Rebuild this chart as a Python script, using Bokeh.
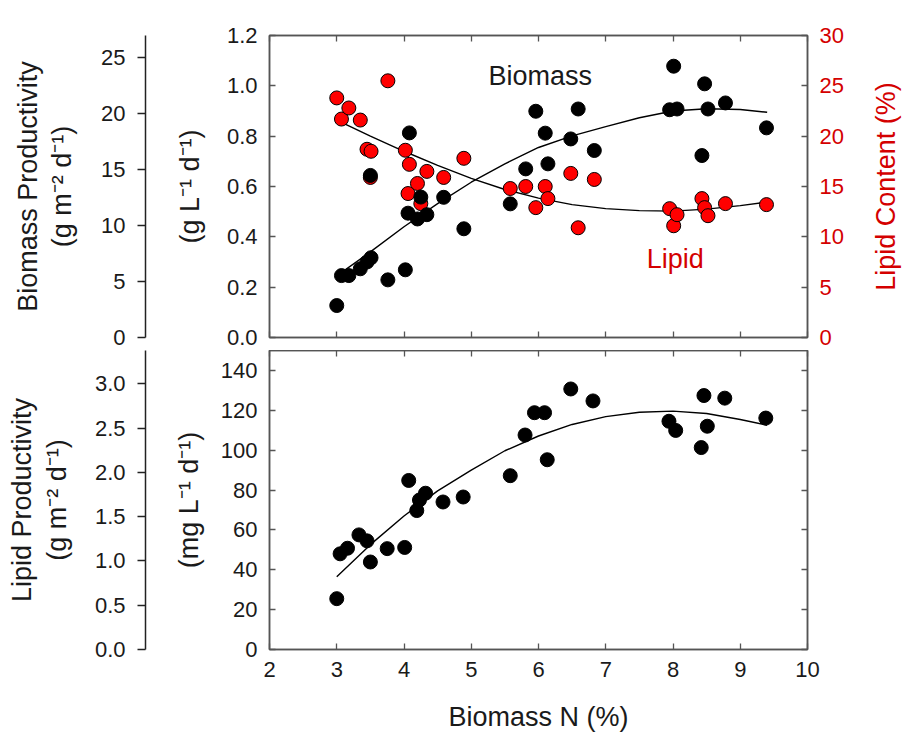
import math
from bokeh.plotting import figure
from bokeh.models import Range1d, LinearAxis, FixedTicker, PrintfTickFormatter, Label
from bokeh.layouts import row, column
from bokeh.embed import file_html
from bokeh.resources import INLINE

# ---------------------------------------------------------------- data
# Biomass N (%) of each culture, shared by biomass productivity and lipid content
biomass_n = [3.00, 3.07, 3.18, 3.35, 3.45, 3.51, 3.50, 3.76, 4.02, 4.08, 4.06,
             4.20, 4.25, 4.34, 4.59, 4.89, 5.58, 5.81, 5.96, 6.10, 6.14, 6.48,
             6.59, 6.83, 7.95, 8.01, 8.06, 8.43, 8.47, 8.52, 8.78, 9.39]
# volumetric biomass productivity (g L-1 d-1)
biomass_prod = [0.127, 0.246, 0.246, 0.273, 0.300, 0.317, 0.644, 0.229, 0.269,
                0.813, 0.494, 0.471, 0.558, 0.488, 0.557, 0.432, 0.531, 0.670,
                0.899, 0.812, 0.690, 0.789, 0.908, 0.743, 0.905, 1.078, 0.908,
                0.723, 1.008, 0.908, 0.932, 0.833]
# lipid content (%)
lipid_content = [23.8, 21.7, 22.8, 21.6, 18.7, 18.5, 15.9, 25.5, 18.6, 17.2,
                 14.3, 15.3, 13.3, 16.5, 15.9, 17.8, 14.8, 15.0, 12.9, 15.0,
                 13.8, 16.3, 10.9, 15.7, 12.8, 11.1, 12.2, 13.8, 12.9, 12.1,
                 13.3, 13.2]

# lipid productivity (mg L-1 d-1)
lp_biomass_n = [3.00, 3.05, 3.16, 3.33, 3.45, 3.50, 3.75, 4.01, 4.07, 4.19,
                4.23, 4.32, 4.58, 4.88, 5.58, 5.80, 5.94, 6.09, 6.13, 6.48,
                6.81, 7.94, 8.04, 8.42, 8.46, 8.51, 8.77, 9.38]
lipid_prod = [25.5, 48.0, 50.8, 57.5, 54.5, 43.9, 50.6, 51.2, 84.8, 69.7,
              75.0, 78.4, 74.0, 76.5, 87.2, 107.6, 118.8, 118.8, 95.2, 130.7,
              124.7, 114.5, 109.9, 101.3, 127.4, 112.0, 126.1, 116.1]

# regression curves
fit_n = [3.0, 3.5, 4.0, 4.5, 5.0, 5.5, 6.0, 6.5, 7.0, 7.5, 8.0, 8.5, 9.0, 9.4]
biomass_fit = [0.245, 0.340, 0.440, 0.532, 0.617, 0.690, 0.755, 0.801, 0.838,
               0.873, 0.900, 0.909, 0.906, 0.895]
lipid_content_fit = [21.6, 20.0, 18.5, 17.1, 15.8, 14.7, 13.85, 13.2, 12.8,
                     12.6, 12.55, 12.75, 13.1, 13.45]
lipid_prod_fit = [36.5, 52.6, 67.0, 79.6, 90.0, 99.7, 107.1, 112.9, 116.8,
                  119.0, 119.6, 118.4, 115.4, 112.5]

# ticks
x_ticks = [2, 3, 4, 5, 6, 7, 8, 9, 10]
bp_ticks = [0.0, 0.2, 0.4, 0.6, 0.8, 1.0, 1.2]
lc_ticks = [0, 5, 10, 15, 20, 25, 30]
bp_area_ticks = [0, 5, 10, 15, 20, 25]
lp_ticks = [0, 20, 40, 60, 80, 100, 120, 140]
lp_area_ticks = [0.0, 0.5, 1.0, 1.5, 2.0, 2.5, 3.0]

# ---------------------------------------------------------------- style
FONT = "Liberation Sans"
FRAME = "#555555"
INK = "#1a1a1a"
RED = "#d40000"
TICK_SIZE = "22px"
TITLE_SIZE = "27px"

TOP_H, BOT_H = 350, 388


def frame_axis(ax, ticks, show_labels, fmt=None, color=INK):
    ax.ticker = FixedTicker(ticks=ticks)
    ax.major_tick_in = 6
    ax.major_tick_out = 0
    ax.minor_tick_line_color = None
    ax.major_tick_line_color = FRAME
    ax.major_tick_line_width = 1.3
    ax.axis_line_color = FRAME
    ax.axis_line_width = 1.5
    if fmt:
        ax.formatter = PrintfTickFormatter(format=fmt)
    if show_labels:
        ax.major_label_text_font = FONT
        ax.major_label_text_font_size = TICK_SIZE
        ax.major_label_text_color = color
        ax.major_label_standoff = 12
    else:
        # tick marks only, no numbers on this side of the frame
        ax.major_label_text_color = None
        ax.major_label_standoff = 0


def axis_title(ax, text, standoff, color=INK):
    ax.axis_label = text
    ax.axis_label_standoff = standoff
    ax.axis_label_text_font = FONT
    ax.axis_label_text_font_size = TITLE_SIZE
    ax.axis_label_text_font_style = "normal"
    ax.axis_label_text_color = color
    ax.axis_label_text_line_height = 1.15


def bare_fig(width, height, y_end, left, right, top_border, bottom_border):
    f = figure(width=width, height=height, x_range=Range1d(0, 1),
               y_range=Range1d(0, y_end), x_axis_location=None,
               min_border_left=left, min_border_right=right,
               min_border_top=top_border, min_border_bottom=bottom_border,
               output_backend="svg", toolbar_location=None,
               background_fill_color="white", border_fill_color="white",
               outline_line_color=None)
    f.xgrid.grid_line_color = None
    f.ygrid.grid_line_color = None
    return f


def main_fig(width, height, y_end, right, top_border, bottom_border):
    f = figure(width=width, height=height, x_range=Range1d(2, 10),
               y_range=Range1d(0, y_end),
               min_border_left=119, min_border_right=right,
               min_border_top=top_border, min_border_bottom=bottom_border,
               output_backend="svg", toolbar_location=None,
               background_fill_color="white", border_fill_color="white",
               outline_line_color=FRAME, outline_line_width=1.5)
    f.xgrid.grid_line_color = None
    f.ygrid.grid_line_color = None
    return f


def area_fig(height, y_end, top_border, bottom_border, ticks, fmt, title, standoff):
    f = bare_fig(150, height, y_end, 145, 0, top_border, bottom_border)
    ax = f.yaxis[0]
    ax.ticker = FixedTicker(ticks=ticks)
    ax.formatter = PrintfTickFormatter(format=fmt)
    ax.major_tick_in = 0
    ax.major_tick_out = 8
    ax.minor_tick_line_color = None
    ax.major_tick_line_color = "#222222"
    ax.major_tick_line_width = 1.3
    ax.axis_line_color = "#222222"
    ax.axis_line_width = 1.5
    ax.major_label_text_font = FONT
    ax.major_label_text_font_size = TICK_SIZE
    ax.major_label_text_color = INK
    ax.major_label_standoff = 12
    axis_title(ax, title, standoff)
    return f


# ---------------------------------------------------------------- top panel
top = main_fig(717, TOP_H, 1.2, 60, 35, 13)
top.extra_y_ranges = {"lipid": Range1d(0, 30)}
frame_axis(top.xaxis[0], x_ticks, False)
frame_axis(top.yaxis[0], bp_ticks, True, "%.1f")
axis_title(top.yaxis[0], "(g L\u207b\u00b9 d\u207b\u00b9)", 19)

top_above = LinearAxis()
frame_axis(top_above, x_ticks, False)
top.add_layout(top_above, "above")

lc_axis = LinearAxis(y_range_name="lipid")
frame_axis(lc_axis, lc_ticks, True, "%d", RED)
top.add_layout(lc_axis, "right")

top.line(fit_n, biomass_fit, line_color="black", line_width=1.4)
top.line(fit_n, lipid_content_fit, line_color="black", line_width=1.4,
         y_range_name="lipid")
top.scatter(biomass_n, lipid_content, size=14, fill_color="#ff0000",
            line_color="black", line_width=1, y_range_name="lipid")
top.scatter(biomass_n, biomass_prod, size=14, fill_color="black",
            line_color="black", line_width=1)

top.add_layout(Label(x=5.256, y=1.041, text="Biomass", text_baseline="alphabetic",
                     text_font=FONT, text_font_size=TITLE_SIZE, text_color=INK))
top.add_layout(Label(x=7.61, y=7.82, y_range_name="lipid", text="Lipid",
                     text_baseline="alphabetic", text_font=FONT,
                     text_font_size=TITLE_SIZE, text_color=RED))

# narrow strip carrying the lipid-content title, reading bottom to top
lc_title = bare_fig(36, TOP_H, 30, 0, 0, 35, 13)
t_ax = lc_title.yaxis[0]
t_ax.ticker = FixedTicker(ticks=[])
t_ax.axis_line_color = None
t_ax.major_tick_line_color = None
t_ax.minor_tick_line_color = None
t_ax.major_tick_in = 0
t_ax.major_tick_out = 0
t_ax.minor_tick_in = 0
t_ax.minor_tick_out = 0
t_ax.major_label_text_color = None
t_ax.major_label_standoff = 0
axis_title(t_ax, "Lipid Content (%)", 0, RED)

top_area = area_fig(TOP_H, 27, 35, 13, bp_area_ticks, "%d",
                    "Biomass Productivity\n(g m\u207b\u00b2 d\u207b\u00b9)", 21)

# ---------------------------------------------------------------- bottom panel
bot = main_fig(753, BOT_H, 150, 96, 0, 89)
frame_axis(bot.xaxis[0], x_ticks, True, "%d")
axis_title(bot.xaxis[0], "Biomass N (%)", 22)
frame_axis(bot.yaxis[0], lp_ticks, True, "%d")
axis_title(bot.yaxis[0], "(mg L\u207b\u00b9 d\u207b\u00b9)", 14)

bot_above = LinearAxis()
frame_axis(bot_above, x_ticks, False)
bot.add_layout(bot_above, "above")
bot_right = LinearAxis()
frame_axis(bot_right, lp_ticks, False)
bot.add_layout(bot_right, "right")

bot.line(fit_n, lipid_prod_fit, line_color="black", line_width=1.4)
bot.scatter(lp_biomass_n, lipid_prod, size=14, fill_color="black",
            line_color="black", line_width=1)

bot_area = area_fig(BOT_H, 3.375, 0, 89, lp_area_ticks, "%.1f",
                    "Lipid Productivity\n(g m\u207b\u00b2 d\u207b\u00b9)", 20)

layout = column(row(top_area, top, lc_title), row(bot_area, bot))

with open("out.html", "w") as fh:
    fh.write(file_html(layout, INLINE))
